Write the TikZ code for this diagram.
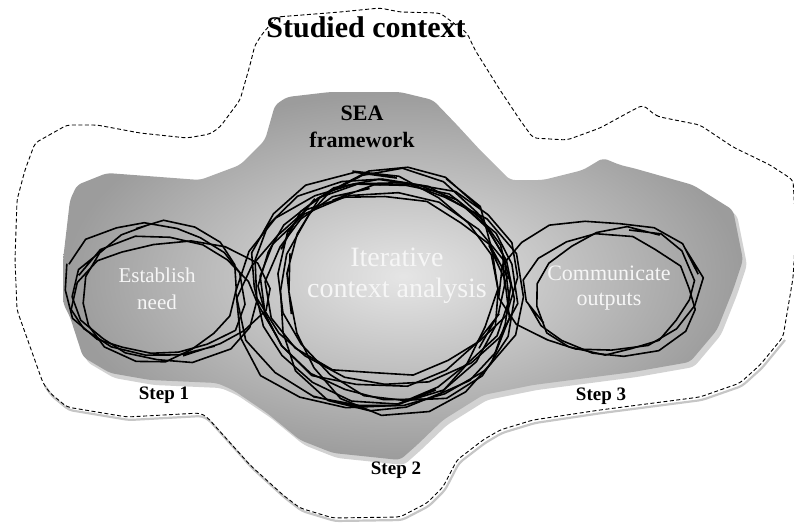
\documentclass[tikz,border=0pt]{standalone}
\usepackage{fontspec}
\setmainfont{Liberation Serif}
\definecolor{offwhite}{HTML}{F6F6F6}
\begin{document}
\begin{tikzpicture}[x=1pt,y=-1pt,
  outline/.style={draw=black,line width=0.9pt,dash pattern=on 4pt off 2.5pt,rounded corners=4pt},
  outshadow/.style={draw=gray!45,line width=2.2pt,rounded corners=4pt},
  scribble/.style={draw=black,line width=1.6pt,line join=round},
  whitelabel/.style={text=offwhite,align=center,inner sep=0pt},
  blacklabel/.style={text=black,align=center,inner sep=0pt,font=\bfseries}]
\useasboundingbox (0,0) rectangle (794,522);

% outer dashed context outline (shadow first)
\draw[outshadow,shift={(2,3)}] (43,383) -- (50,393) -- (67,407) -- (127,417) -- (200,413) -- (207,417) -- (250,465) -- (283,495) -- (300,508) -- (333,518) -- (400,517) -- (427,503) -- (443,487) -- (457,460) -- (483,440) -- (500,430) -- (533,420) -- (600,410) -- (700,397) -- (740,383) -- (760,365) -- (783,337);
\draw[outline] (277,17) -- (340,12) -- (380,8) -- (400,12) -- (440,13) -- (467,33) -- (475,50) -- (480,58) -- (500,90) -- (520,120) -- (533,138) -- (567,140) -- (600,128) -- (633,110) -- (643,105) -- (655,115) -- (660,117) -- (700,125) -- (733,147) -- (770,165) -- (793,180) -- (796,230) -- (793,278) -- (783,337) -- (760,365) -- (740,383) -- (700,397) -- (600,410) -- (533,420) -- (500,430) -- (483,440) -- (457,460) -- (443,487) -- (427,503) -- (400,517) -- (333,518) -- (300,508) -- (283,495) -- (250,465) -- (207,417) -- (200,413) -- (127,417) -- (67,407) -- (50,393) -- (43,383) -- (17,310) -- (15,260) -- (17,200) -- (25,170) -- (35,143) -- (67,125) -- (97,125) -- (140,133) -- (187,138) -- (210,134) -- (220,127) -- (240,100) -- (250,65) -- (255,45) -- (263,33) -- cycle;

% SEA framework blob: shadow then shaded body
\fill[gray!35,shift={(4,5)},rounded corners=5pt] (287,97) -- (330,92) -- (400,92) -- (433,100) -- (457,125) -- (480,150) -- (510,180) -- (543,180) -- (583,170) -- (603,158) -- (620,165) -- (633,168) -- (693,185) -- (733,210) -- (743,260) -- (733,290) -- (717,330) -- (690,362) -- (633,372) -- (533,385) -- (483,395) -- (443,420) -- (417,445) -- (400,460) -- (333,453) -- (300,440) -- (267,413) -- (233,390) -- (217,383) -- (150,380) -- (110,373) -- (83,357) -- (70,317) -- (63,303) -- (63,260) -- (70,200) -- (77,185) -- (107,173) -- (200,180) -- (240,165) -- (265,140) -- (275,105) -- cycle;
\shade[inner color=gray!20,outer color=gray!78,rounded corners=5pt] (287,97) -- (330,92) -- (400,92) -- (433,100) -- (457,125) -- (480,150) -- (510,180) -- (543,180) -- (583,170) -- (603,158) -- (620,165) -- (633,168) -- (693,185) -- (733,210) -- (743,260) -- (733,290) -- (717,330) -- (690,362) -- (633,372) -- (533,385) -- (483,395) -- (443,420) -- (417,445) -- (400,460) -- (333,453) -- (300,440) -- (267,413) -- (233,390) -- (217,383) -- (150,380) -- (110,373) -- (83,357) -- (70,317) -- (63,303) -- (63,260) -- (70,200) -- (77,185) -- (107,173) -- (200,180) -- (240,165) -- (265,140) -- (275,105) -- cycle;

% text on the blob (drawn before scribbles)
\node[whitelabel,font=\fontsize{21}{27}\selectfont] (need) at (157,289) {Establish\\need};
\node[whitelabel,font=\fontsize{28}{31}\selectfont] (iter) at (397,276) {Iterative\\context analysis};
\node[whitelabel,font=\fontsize{22}{25}\selectfont] (comm) at (609,288) {Communicate\\outputs};

% scribbled loops
\pgfmathsetseed{11}
\foreach \cx/\cy/\rx/\ry/\s/\e/\p in {
  395/290/118/112/200/590/0, 385/282/128/105/150/530/40,
  380/295/136/120/100/480/90, 392/280/120/100/240/620/130,
  372/300/134/108/60/440/170, 388/290/112/120/300/680/210,
  382/285/130/98/20/400/250, 398/293/118/116/170/560/290,
  376/289/128/112/260/640/330, 386/297/122/104/330/710/20}
  \draw[scribble] plot[domain=\s:\e,samples=20,variable=\t]
    ({\cx+\rx*(1+0.06*sin(2*\t+\p))*cos(\t)+3*rand},{\cy+\ry*(1+0.06*sin(2*\t+\p))*sin(\t)+3*rand});
\foreach \cx/\cy/\rx/\ry/\s/\e/\p in {
  165/300/90/62/205/590/0, 155/290/85/70/200/560/60,
  170/298/95/60/60/440/120, 160/292/80/68/250/620/200}
  \draw[scribble] plot[domain=\s:\e,samples=18,variable=\t]
    ({\cx+\rx*(1+0.07*sin(2*\t+\p))*cos(\t)+3*rand},{\cy+\ry*(1+0.07*sin(2*\t+\p))*sin(\t)+3*rand});
\foreach \cx/\cy/\rx/\ry/\s/\e/\p in {
  610/295/85/60/150/530/0, 600/285/95/70/-30/350/90, 615/292/80/62/280/660/180}
  \draw[scribble] plot[domain=\s:\e,samples=18,variable=\t]
    ({\cx+\rx*(1+0.07*sin(2*\t+\p))*cos(\t)+3*rand},{\cy+\ry*(1+0.07*sin(2*\t+\p))*sin(\t)+3*rand});

% black labels
\node[blacklabel,font=\bfseries\fontsize{30}{34}\selectfont] (ctx) at (366,27) {Studied context};
\node[blacklabel,font=\bfseries\fontsize{22}{27}\selectfont] (sea) at (362,127) {SEA\\framework};
\node[blacklabel,font=\bfseries\fontsize{19}{22}\selectfont] (s1) at (164,395) {Step 1};
\node[blacklabel,font=\bfseries\fontsize{19}{22}\selectfont] (s2) at (396,470) {Step 2};
\node[blacklabel,font=\bfseries\fontsize{19}{22}\selectfont] (s3) at (601,396) {Step 3};
\end{tikzpicture}
\end{document}
